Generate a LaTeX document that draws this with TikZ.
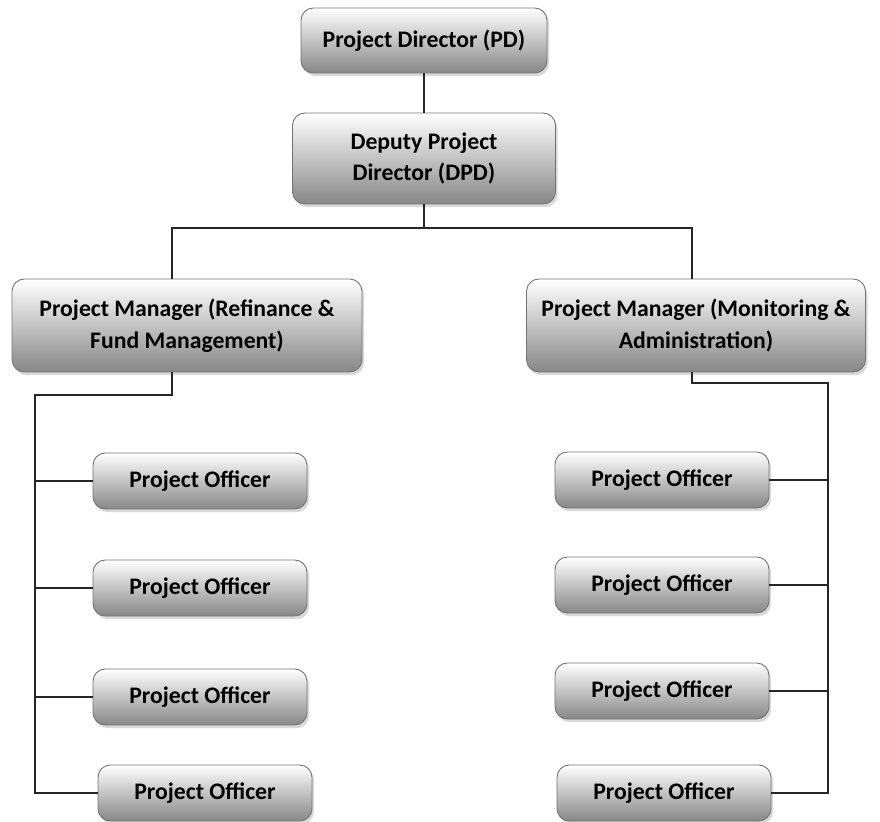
\documentclass[tikz,border=0pt]{standalone}
\usepackage{fontspec}
\setmainfont{Carlito}
\usetikzlibrary{shadows}
\definecolor{boxGray}{RGB}{135,135,135}
\definecolor{edgeGray}{RGB}{115,115,115}
\tikzstyle{bS}=[rectangle,rounded corners=7pt,draw=edgeGray,line width=0.5pt,top color=white,bottom color=boxGray,drop shadow={shadow xshift=1.2pt,shadow yshift=-1.8pt,opacity=0.3},font=\fontsize{13.5}{18}\selectfont\bfseries,align=center,inner sep=0pt]
\tikzstyle{oS}=[bS,minimum width=4.28cm,minimum height=1.12cm]
\tikzstyle{lS}=[line width=0.8pt,draw=black!85]

\begin{document}
\begin{tikzpicture}[x=0.02cm,y=-0.02cm]
                \useasboundingbox (0,0) rectangle (880,822);
                \draw (424,40.5) node[bS,minimum width=4.92cm,minimum height=1.3cm] (pd) {Project Director (PD)};
                \draw (424,158.5) node[bS,minimum width=5.26cm,minimum height=1.82cm] (dpd) {Deputy Project\\Director (DPD)};
                \draw (187,325.5) node[bS,minimum width=7.0cm,minimum height=1.86cm] (pmL) {Project Manager (Refinance \&\\Fund Management)};
                \draw (696,325.5) node[bS,minimum width=6.78cm,minimum height=1.86cm] (pmR) {Project Manager (Monitoring \&\\Administration)};
                % left officers
                \draw (200,481) node[oS] (lpo1) {Project Officer};
                \draw (200,588) node[oS] (lpo2) {Project Officer};
                \draw (200,697) node[oS] (lpo3) {Project Officer};
                \draw (205,793) node[oS] (lpo4) {Project Officer};
                % right officers
                \draw (662,480) node[oS] (rpo1) {Project Officer};
                \draw (662,585) node[oS] (rpo2) {Project Officer};
                \draw (662,691) node[oS] (rpo3) {Project Officer};
                \draw (664,793) node[oS] (rpo4) {Project Officer};
                \coordinate (bus) at (424,228);
                \coordinate (lcol) at (35,395);
                \coordinate (rcol) at (828,383);
                \draw[lS] (pd) -- (dpd);
                \draw[lS] (dpd) -- (bus);
                \draw[lS] ([xshift=-0.3cm]pmL.north) |- (bus) -| ([xshift=-0.08cm]pmR.north);
                \draw[lS] ([xshift=-0.3cm]pmL.south) |- (lcol) |- (lpo4.west);
                \draw[lS] ([xshift=-0.08cm]pmR.south) |- (rcol) |- (rpo4.east);
                \foreach \i in {1,2,3}{
                    \draw[lS] (lcol) |- (lpo\i.west);
                    \draw[lS] (rcol) |- (rpo\i.east);
                }
        \end{tikzpicture}
\end{document}
